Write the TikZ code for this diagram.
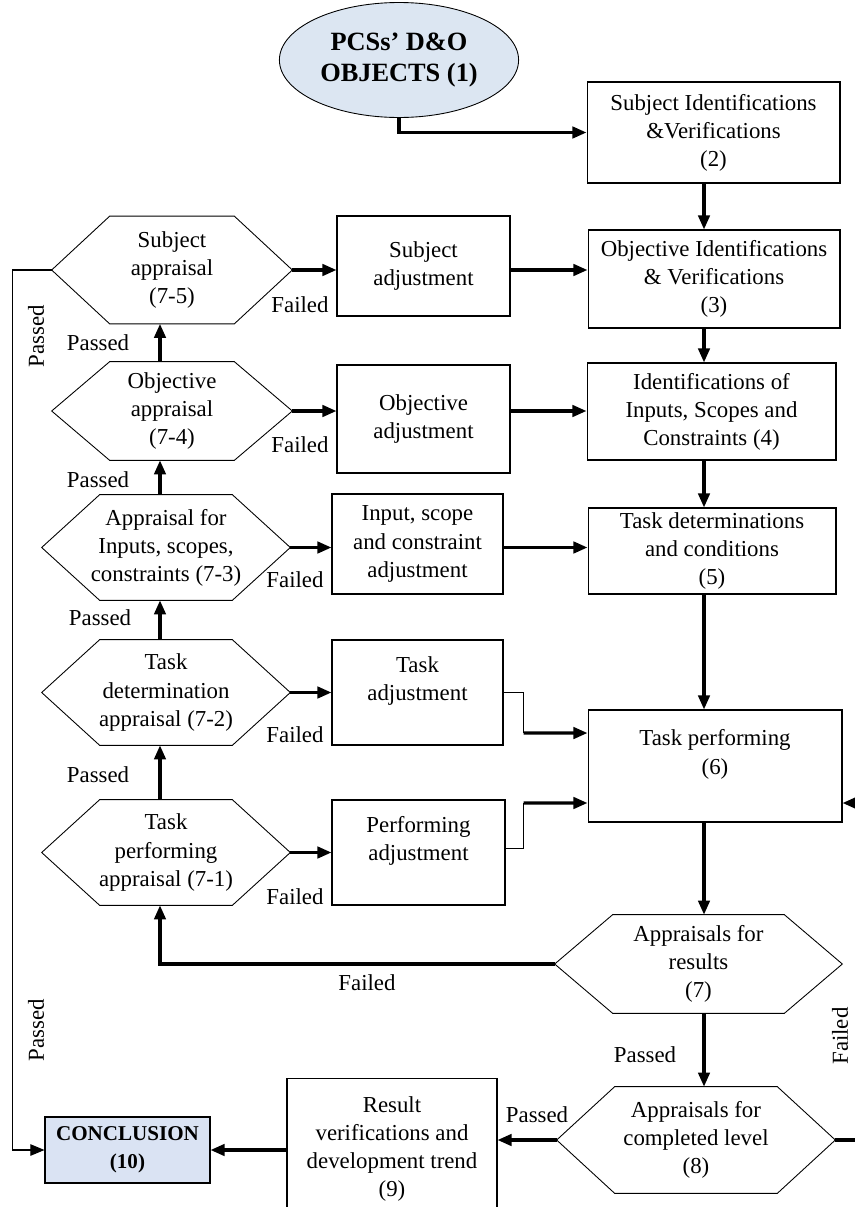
\documentclass[tikz,border=0pt]{standalone}
\usepackage{fontspec}
\setmainfont{Liberation Serif}
\usetikzlibrary{arrows.meta,shapes.geometric}
\definecolor{paleblue}{RGB}{220,230,242}
\definecolor{conclblue}{RGB}{218,227,243}

\tikzset{
  box/.style={draw, line width=0.6pt, rectangle, align=center, inner sep=2pt},
  hexa/.style={rectangle, align=center, inner sep=0pt},
  flow/.style={line width=1.8pt, -{Triangle[length=8pt,width=6.5pt]}},
  lbl/.style={inner sep=1pt},
}

\begin{document}
\begin{tikzpicture}[x=0.02cm,y=-0.02cm,font=\fontsize{13}{16}\selectfont]
    \useasboundingbox (0,0) rectangle (855,1207);
    \clip (0,0) rectangle (855,1207);

    % Main column
    \node[ellipse,draw,line width=0.5pt,fill=paleblue,minimum width=4.5cm,minimum height=2.3cm,
          align=center,font=\bfseries\fontsize{15}{18}\selectfont] (objs) at (399,60) {PCSs’ D\&O\\OBJECTS (1)};
    \node[box,minimum width=5.06cm,minimum height=2.02cm] (s2) at (713.5,132.5) {Subject Identifications\\\&Verifications\\(2)};
    \node[box,minimum width=5.04cm,minimum height=1.96cm] (s3) at (714,279) {Objective Identifications\\\& Verifications\\(3)};
    \node[box,minimum width=4.98cm,minimum height=1.94cm] (s4) at (711.5,411.5) {Identifications of\\Inputs, Scopes and\\Constraints (4)};
    \node[box,minimum width=4.96cm,minimum height=1.72cm] (s5) at (712,551) {Task determinations\\and conditions\\(5)};
    \node[box,minimum width=5.08cm,minimum height=2.24cm] (s6) at (715,766) {Task performing\\(6)\\\mbox{}};
    \node[hexa,minimum width=5.74cm,minimum height=1.96cm] (a7) at (698.5,964) {Appraisals for\\results\\(7)};
    \node[hexa,minimum width=5.56cm,minimum height=2.12cm] (a8) at (696,1140) {Appraisals for\\completed level\\(8)};
    \node[box,minimum width=4.2cm,minimum height=2.84cm] (s9) at (392,1149) {Result\\verifications and\\development trend\\(9)};
    \node[box,fill=conclblue,minimum width=3.3cm,minimum height=1.32cm,
          font=\bfseries\fontsize{12}{16}\selectfont] (concl) at (127.5,1150) {CONCLUSION\\(10)};

    % Appraisal column
    \node[hexa,minimum width=4.8cm,minimum height=2.14cm] (a75) at (172,270) {Subject\\appraisal\\(7-5)};
    \node[hexa,minimum width=4.8cm,minimum height=1.96cm] (a74) at (172,411) {Objective\\appraisal\\(7-4)};
    \node[hexa,minimum width=4.96cm,minimum height=2.1cm] (a73) at (166,547.5) {Appraisal for\\Inputs, scopes,\\constraints (7-3)};
    \node[hexa,minimum width=4.96cm,minimum height=2.1cm] (a72) at (166,692.5) {Task\\determination\\appraisal (7-2)};
    \node[hexa,minimum width=4.96cm,minimum height=2.1cm] (a71) at (166,852.5) {Task\\performing\\appraisal (7-1)};

    % Adjustment column
    \node[box,minimum width=3.46cm,minimum height=2cm] (subjadj) at (423.5,266) {Subject\\adjustment};
    \node[box,minimum width=3.46cm,minimum height=2.16cm] (objadj) at (423.5,419) {Objective\\adjustment};
    \node[box,minimum width=3.42cm,minimum height=2cm] (inpadj) at (417.5,544) {Input, scope\\and constraint\\adjustment};
    \node[box,minimum width=3.42cm,minimum height=2.1cm] (taskadj) at (417.5,692.5) {Task\\adjustment\\\mbox{}};
    \node[box,minimum width=3.46cm,minimum height=2.1cm] (perfadj) at (418.5,852.5) {Performing\\adjustment\\\mbox{}};

    % Hexagon outlines
    \foreach \n in {a7,a8,a75,a74,a73,a72,a71}
      \draw[line width=0.5pt] (\n.west) -- ([xshift=1.16cm]\n.north west) -- ([xshift=-1.16cm]\n.north east)
        -- (\n.east) -- ([xshift=-1.16cm]\n.south east) -- ([xshift=1.16cm]\n.south west) -- cycle;

    \coordinate (spine) at (704,0);
    \coordinate (up) at (160,0);

    % Main flow
    \draw[flow] (objs.south) |- (s2.west);
    \draw[flow] (s2.south -| spine) -- (s3.north -| spine);
    \draw[flow] (s3.south -| spine) -- (s4.north -| spine);
    \draw[flow] (s4.south -| spine) -- (s5.north -| spine);
    \draw[flow] (s5.south -| spine) -- (s6.north -| spine);
    \draw[flow] (s6.south -| spine) -- (a7.north -| spine);
    \draw[flow] (a7.south -| spine) -- (a8.north -| spine);
    \draw[flow] (a8.west) -- (a8.west -| s9.east);
    \draw[flow] (concl.east -| s9.west) -- (concl.east);
    \draw[flow] (a8.east) -- ++(60,0) |- ([yshift=-0.74cm]s6.east);

    % Appraisals passed upwards
    \draw[flow] (a74.north -| up) -- (a75.south -| up);
    \draw[flow] (a73.north -| up) -- (a74.south -| up);
    \draw[flow] (a72.north -| up) -- (a73.south -| up);
    \draw[flow] (a71.north -| up) -- (a72.south -| up);
    \draw[flow] (a7.west) -| (a71.south -| up);
    \draw[line width=0.6pt,-{Triangle[length=8pt,width=6.5pt]}] (a75.west) -- ++(-39,0) |- (concl.west);

    % Failed -> adjustments
    \draw[flow] (a75.east) -- (a75.east -| subjadj.west);
    \draw[flow] (a74.east) -- (a74.east -| objadj.west);
    \draw[flow] (a73.east) -- (a73.east -| inpadj.west);
    \draw[flow] (a72.east) -- (a72.east -| taskadj.west);
    \draw[flow] (a71.east) -- (a71.east -| perfadj.west);
    \draw[flow] (a75.east -| subjadj.east) -- (a75.east -| s3.west);
    \draw[flow] (a74.east -| objadj.east) -- (a74.east -| s4.west);
    \draw[flow] (a73.east -| inpadj.east) -- (a73.east -| s5.west);
    \draw[line width=0.6pt] (taskadj.east) -- ++(20,0) coordinate (tj) -- (tj |- 0,733);
    \draw[flow] (tj |- 0,733) -- ([yshift=0.66cm]s6.west);
    \draw[line width=0.6pt] ([yshift=0.08cm]perfadj.east) -- ++(18,0) coordinate (pj) -- (pj |- 0,803);
    \draw[flow] (pj |- 0,803) -- ([yshift=-0.74cm]s6.west);

    % Labels
    \node[lbl] (pas1) at (98,343) {Passed};
    \node[lbl] (pas2) at (98,480) {Passed};
    \node[lbl] (pas3) at (100,618) {Passed};
    \node[lbl] (pas4) at (98,775) {Passed};
    \node[lbl] (pas5) at (645,1055) {Passed};
    \node[lbl] (pas6) at (537,1115) {Passed};
    \node[lbl,rotate=90] (pas7) at (36,336) {Passed};
    \node[lbl,rotate=90] (pas8) at (36,1030) {Passed};
    \node[lbl] (fal1) at (300,305) {Failed};
    \node[lbl] (fal2) at (300,445) {Failed};
    \node[lbl] (fal3) at (295,580) {Failed};
    \node[lbl] (fal4) at (295,735) {Failed};
    \node[lbl] (fal5) at (295,897) {Failed};
    \node[lbl] (fal6) at (367,983) {Failed};
    \node[lbl,rotate=90] (fal7) at (840,1036) {Failed};
\end{tikzpicture}
\end{document}
